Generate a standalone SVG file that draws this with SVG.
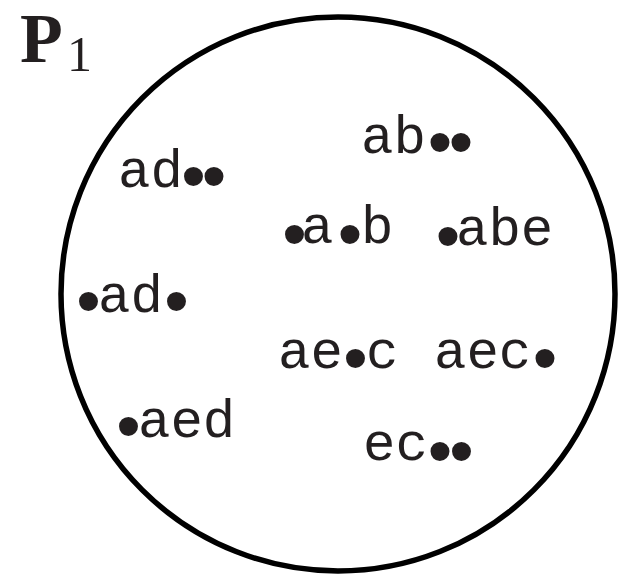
<svg xmlns="http://www.w3.org/2000/svg" width="618" height="579" viewBox="0 0 618 579">
<style>
.t{font-family:"Liberation Mono","Courier New",monospace;font-size:54px;fill:#231f20}
.b{font-family:"Liberation Sans",Arial,sans-serif;font-size:70px}
</style>
<rect width="618" height="579" fill="#fff"/>
<g id="set">
<circle cx="338" cy="294" r="277" fill="none" stroke="#000" stroke-width="5.5"/>
<text x="20" y="62" style="font-family:'Liberation Serif','Times New Roman',serif;font-weight:bold;font-size:70px;fill:#231f20">P<tspan x="67" y="71" style="font-weight:normal;font-size:50px">1</tspan></text>
</g>
<g id="n1"><text class="t" x="118" y="187">ad<tspan class="b" x="181.3" y="200">•</tspan><tspan class="b" x="201.8" y="200">•</tspan></text></g>
<g id="n2"><text class="t" x="361" y="153">ab<tspan class="b" x="427.8" y="166">•</tspan><tspan class="b" x="448.8" y="166">•</tspan></text></g>
<g id="n3"><text class="t" x="282.3" y="258"><tspan class="b">•</tspan><tspan x="301" y="243">a</tspan><tspan class="b" x="337.8" y="258">•</tspan><tspan x="361" y="243">b</tspan></text></g>
<g id="n4"><text class="t" x="435.8" y="260"><tspan class="b">•</tspan><tspan x="456" y="245">abe</tspan></text></g>
<g id="n5"><text class="t" x="76.3" y="325"><tspan class="b">•</tspan><tspan x="98" y="312">ad</tspan><tspan class="b" x="164.3" y="325">•</tspan></text></g>
<g id="n6"><text class="t" x="116.3" y="450"><tspan class="b">•</tspan><tspan x="138" y="437">aed</tspan></text></g>
<g id="n7"><text class="t" x="278" y="368">ae<tspan class="b" x="343.3" y="382">•</tspan><tspan x="366" y="368">c</tspan></text></g>
<g id="n8"><text class="t" x="434" y="368">aec<tspan class="b" x="532.8" y="382">•</tspan></text></g>
<g id="n9"><text class="t" x="363" y="460">ec<tspan class="b" x="427.8" y="475">•</tspan><tspan class="b" x="449.3" y="475">•</tspan></text></g>
<g id="connectors"></g>
</svg>
